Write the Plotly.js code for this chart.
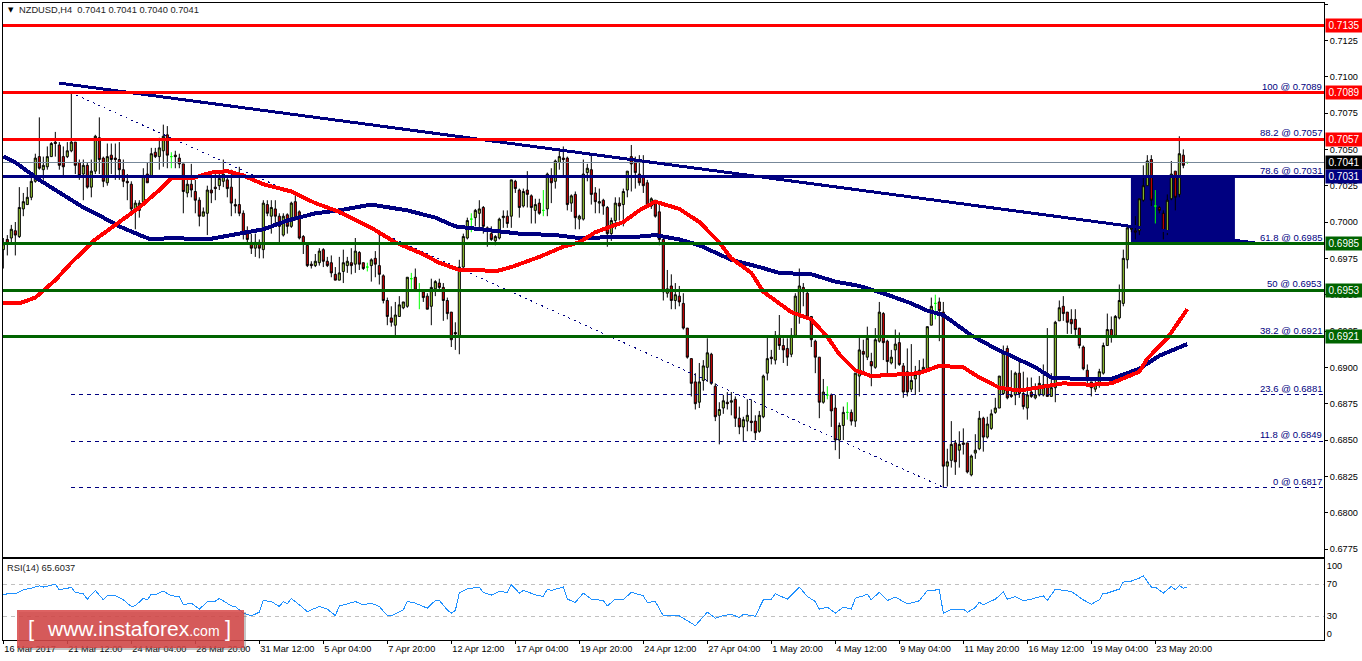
<!DOCTYPE html>
<html>
<head>
<meta charset="utf-8">
<script src="https://cdn.plot.ly/plotly-3.0.1.min.js"></script>
<style>html,body{margin:0;padding:0;background:#fff}#chart{width:1362px;height:661px}.js-line{shape-rendering:crispEdges}</style>
</head>
<body>
<div id="chart"></div>
<script>
// Prices in pips (price x 10000), one entry per H4 bar
const opens = [6981,6988,6989,6994,6990,7009,7012,7017,7028,7045,
7036,7038,7045,7055,7053,7045,7045,7049,7055,7041,
7033,7039,7024,7035,7058,7044,7027,7046,7044,7043,
7036,7028,7026,7009,7008,7014,7033,7032,7048,7045,
7049,7060,7045,7046,7044,7040,7020,7026,7021,7015,
7004,7006,7022,7024,7025,7028,7029,7024,7012,7012,
7006,6992,6986,6982,6986,6981,7012,7004,7009,7004,
6991,7005,6997,7014,7007,6990,6984,6971,6970,6972,
6981,6973,6972,6964,6960,6966,6970,6972,6971,6979,
6972,6969,6970,6975,6970,6963,6946,6934,6929,6935,
6941,6942,6961,6962,6953,6952,6949,6942,6954,6958,
6955,6946,6938,6924,6921,6969,6989,7002,7003,7006,
7010,6996,6992,6987,6989,7003,7004,7004,7028,7022,
7011,7022,7018,7008,7013,7008,7009,7032,7028,7041,
7044,7044,7013,7019,7002,7002,7034,7036,7020,7013,
7015,7010,6992,7001,7013,7012,7022,7045,7042,7033,
7032,7027,7011,7015,7007,6988,6951,6956,6946,6949,
6944,6927,6906,6890,6876,6891,6900,6909,6887,6867,
6872,6876,6876,6878,6865,6859,6863,6863,6863,6856,
6866,6896,6907,6905,6922,6915,6913,6909,6922,6935,
6955,6951,6935,6918,6907,6876,6881,6881,6872,6850,
6860,6869,6869,6863,6894,6911,6907,6904,6900,6918,
6937,6918,6903,6912,6917,6901,6897,6885,6892,6895,
6897,6899,6929,6944,6945,6938,6832,6836,6848,6843,
6848,6848,6826,6841,6844,6865,6852,6858,6869,6872,
6882,6913,6881,6881,6896,6882,6872,6883,6879,6881,
6881,6887,6880,6886,6932,6942,6938,6933,6933,6927,
6914,6898,6890,6885,6888,6896,6915,6926,6922,6934,
6944,6974,6995,6994,6994,7015,7025,7043,7011,7010,
7006,6994,7016,7035,7019,7046,7041];
const highs = [6989,6991,6998,7000,7024,7020,7024,7033,7047,7072,
7045,7052,7055,7062,7055,7052,7055,7089,7055,7043,
7043,7041,7043,7060,7072,7045,7054,7054,7054,7055,
7043,7033,7028,7015,7015,7037,7041,7051,7051,7058,
7067,7066,7048,7049,7047,7040,7029,7040,7029,7017,
7010,7025,7033,7033,7035,7043,7032,7036,7016,7038,
7008,6997,6992,6992,6988,7015,7015,7015,7015,7006,
7006,7006,7014,7020,7008,6991,6985,6973,6978,6982,
6982,6976,6977,6969,6976,6981,6976,6982,6989,6980,
6972,6972,6975,6980,6992,6964,6948,6942,6945,6949,
6945,6962,6965,6968,6958,6953,6951,6961,6960,6961,
6958,6948,6938,6931,6974,6992,7003,7006,7009,7015,
7011,6997,6997,6991,7003,7008,7008,7029,7029,7023,
7023,7035,7019,7016,7016,7022,7034,7037,7043,7050,
7052,7045,7019,7021,7005,7043,7040,7047,7024,7023,
7016,7011,7003,7017,7017,7023,7035,7053,7045,7046,
7046,7029,7017,7015,7012,6989,6967,6964,6958,6956,
6951,6927,6906,6896,6903,6905,6920,6910,6889,6876,
6881,6883,6883,6880,6873,6866,6878,6878,6867,6870,
6895,6922,6912,6925,6936,6920,6920,6927,6951,6968,
6958,6952,6935,6919,6907,6892,6887,6882,6881,6862,
6873,6876,6871,6896,6922,6919,6928,6910,6927,6945,
6938,6919,6912,6926,6924,6903,6913,6916,6901,6905,
6906,6928,6948,6950,6948,6945,6844,6863,6850,6856,
6858,6848,6840,6854,6870,6866,6866,6871,6879,6894,
6915,6915,6898,6897,6905,6897,6893,6893,6889,6894,
6902,6927,6896,6932,6946,6949,6938,6940,6940,6927,
6915,6902,6890,6891,6899,6917,6937,6935,6936,6957,
6981,6997,6997,7004,7016,7039,7046,7046,7022,7011,
7008,7019,7042,7035,7059,7050,7041];
const lows = [6968,6977,6985,6977,6989,7004,7012,7015,7027,7036,
7029,7036,7045,7045,7036,7032,7044,7048,7033,7029,
7015,7023,7017,7033,7033,7024,7025,7033,7029,7029,
7024,7015,7006,6995,7003,7012,7027,7031,7044,7036,
7038,7037,7037,7037,7037,7006,7017,7017,7006,6997,
7004,6991,7013,7015,7022,7024,7017,7004,7006,7004,
6988,6986,6978,6976,6975,6975,7004,6992,6997,6985,
6990,6992,6996,7001,6988,6978,6969,6968,6969,6970,
6969,6969,6962,6960,6960,6958,6965,6964,6965,6967,
6967,6966,6959,6962,6957,6944,6929,6928,6921,6935,
6940,6941,6954,6953,6940,6945,6940,6929,6949,6952,
6932,6933,6914,6912,6909,6967,6988,6993,6997,6996,
6992,6983,6987,6984,6988,6996,6996,6996,7020,7003,
7010,7010,6999,6999,7005,7004,7004,7013,7023,7036,
7032,7008,7007,6995,6995,7001,7028,7012,7006,7006,
7005,6983,6987,6995,7001,6997,7017,7021,7023,7025,
7020,7010,7009,7003,6984,6946,6948,6940,6940,6942,
6926,6906,6880,6871,6872,6884,6890,6888,6863,6847,
6868,6871,6867,6859,6854,6849,6856,6856,6850,6855,
6865,6891,6902,6902,6912,6903,6901,6907,6921,6930,
6942,6933,6914,6896,6865,6875,6878,6859,6843,6837,
6850,6864,6860,6859,6880,6896,6905,6887,6899,6917,
6905,6895,6902,6899,6901,6879,6880,6883,6881,6883,
6896,6898,6929,6933,6918,6817,6818,6831,6826,6831,
6840,6827,6825,6837,6843,6842,6851,6857,6868,6872,
6881,6878,6879,6874,6879,6871,6864,6879,6878,6880,
6880,6880,6880,6876,6932,6932,6923,6923,6921,6913,
6898,6889,6880,6883,6886,6895,6915,6917,6921,6933,
6942,6968,6993,6988,6991,7014,7025,7011,6999,7006,
6988,6991,7015,7008,7017,7037,7040];
const closes = [6985,6985,6995,6991,7010,7014,7017,7028,7044,7037,
7039,7045,7054,7054,7039,7038,7049,7055,7039,7032,
7039,7024,7035,7059,7043,7028,7045,7043,7043,7036,
7028,7027,7009,7013,7013,7032,7027,7047,7045,7051,
7059,7046,7045,7045,7040,7021,7026,7022,7015,7004,
7007,7022,7020,7023,7030,7033,7023,7013,7011,7006,
6992,6988,6982,6986,6982,7013,7006,7010,7004,6997,
7004,6997,7013,7002,6989,6985,6970,6970,6973,6980,
6973,6970,6965,6960,6965,6972,6973,6970,6980,6971,
6968,6969,6974,6971,6964,6946,6935,6931,6936,6943,
6945,6962,6961,6953,6953,6948,6940,6955,6959,6955,
6946,6937,6919,6923,6969,6990,7001,7002,7008,7009,
6997,6995,6988,6990,7002,7004,6999,7029,7023,7010,
7021,7019,7010,7012,7006,7008,7033,7027,7042,7045,
7043,7012,7018,7003,7004,7033,7037,7019,7014,7014,
7011,6992,7001,7013,7011,7021,7035,7040,7034,7027,
7025,7011,7016,7004,6988,6952,6954,6946,6950,6945,
6927,6907,6889,6875,6890,6901,6910,6889,6866,6871,
6877,6875,6877,6865,6859,6864,6867,6862,6855,6867,
6894,6906,6906,6922,6915,6912,6907,6922,6949,6956,
6952,6934,6919,6907,6876,6883,6881,6870,6850,6860,
6869,6869,6863,6896,6912,6909,6920,6901,6919,6938,
6917,6904,6907,6916,6902,6883,6883,6891,6895,6898,
6900,6928,6942,6944,6939,6832,6835,6847,6835,6847,
6847,6828,6839,6843,6865,6852,6861,6868,6872,6894,
6911,6879,6880,6896,6882,6873,6881,6880,6881,6889,
6888,6880,6886,6931,6941,6937,6931,6930,6926,6915,
6899,6892,6886,6888,6897,6915,6926,6921,6935,6946,
6975,6996,6996,6993,7016,7025,7042,7015,7011,7008,
6994,7015,7033,7017,7047,7039,7041];
const dojiBars = [42,91,102,104,117,135,206,211,233,288,296];

const blueMaBars = [0,3,9,13,20,25,29,35,37,42,51,57,65,71,78,84,92,101,108,113,122,129,138,144,159,163,169,174,178,182,189,194,202,208,214,221,227,231,235,242,248,254,258,262,269,277,284,289,296];
const blueMaVals = [7045,7041,7029,7022,7010,7003,6997,6990,6988,6989,6988,6991,6995,7001,7006,7008,7012,7008,7003,6997,6994,6992,6991,6989,6990,6991,6988,6984,6979,6974,6969,6965,6964,6959,6956,6950,6944,6939,6936,6922,6913,6905,6900,6893,6892,6892,6899,6908,6916];
const redMaBars = [0,4,8,12,13,17,23,28,34,39,42,47,52,56,60,65,72,78,84,92,98,104,109,114,119,123,127,134,140,144,148,155,159,163,169,174,179,182,187,190,194,197,202,206,209,213,217,223,229,234,240,244,249,254,259,265,272,277,284,286,291,296];
const redMaVals = [6944,6944,6948,6957,6960,6972,6988,6998,7010,7022,7030,7030,7034,7035,7032,7026,7021,7013,7007,6996,6986,6979,6972,6967,6967,6966,6969,6976,6983,6986,6993,7000,7008,7014,7009,7000,6986,6975,6965,6952,6944,6938,6933,6921,6909,6898,6894,6895,6896,6901,6900,6893,6886,6884,6886,6889,6888,6889,6897,6906,6920,6940];

const rsiBars = [0,1,3,5,7,9,10,13,14,17,18,20,21,23,25,26,28,30,32,33,35,36,37,38,40,42,44,45,47,49,51,53,54,57,58,60,62,64,65,67,69,70,71,72,74,76,79,81,83,84,86,88,90,92,94,96,97,100,101,103,106,108,109,111,112,113,114,116,119,120,122,124,126,127,129,130,133,135,136,137,140,141,143,145,147,150,151,153,155,157,160,161,163,165,169,171,173,176,178,180,182,184,185,188,190,192,193,196,198,199,201,203,204,206,208,210,212,213,215,216,217,219,221,223,226,229,231,234,235,237,240,241,243,244,245,247,248,250,251,253,255,257,260,261,263,265,267,270,272,274,275,276,279,280,282,284,285,287,288,290,292,293,294,295,296];
const rsiVals = [56.7,57.9,57.9,62.9,65,67.9,66.3,70,62.9,65.8,59.6,57.9,51.3,62.1,50.4,55.8,55.8,50.4,42.1,42.9,52.5,50.4,57.5,56.7,61.3,55.4,54.6,44.2,46.3,38.8,47.9,48.8,52.1,42.9,42.1,33.8,30.4,35,49.6,48.3,42.1,48.3,45.4,52.1,44.2,35.8,42.1,38.8,30.8,42.9,45.4,48.3,44.2,46.3,42.1,30.8,30.4,37.9,48.3,46.3,40,49.6,49.6,37.9,33.8,37.1,58.8,64.2,66.3,59.6,56.3,60.8,59.6,69.2,58.8,62.1,56.7,54.6,63.8,62.1,66.3,51.3,47.1,58.8,51.3,49.6,42.9,51.3,50.4,60,55.4,47.1,48.3,30.4,30.4,24.6,18.3,35,27.5,30.8,32.5,28.3,32.5,30,50.4,51.3,57.9,51.3,62.1,66.3,54.6,48.3,38.8,41.3,33.8,41.3,38.8,52.5,55.4,57.5,50.4,60,49.6,53.8,45.4,49.2,62.1,62.9,33.8,38.8,38.8,35,40.8,47.5,44.2,49.6,51.3,60,51.3,54.6,49.2,51.3,55.4,49.6,63.8,62.1,60.8,50.4,45,50.4,58.8,58.8,63.8,72.5,73.8,77.5,80.4,66.3,66.3,58.8,67.1,62.9,67.9,65,65.6];

const redLevels = [7135,7089,7057];
const navyLevels = [7031];
const greenLevels = [6985,6953,6921];
const lastPrice = 7041;
const dashedLevels = [6881,6849,6817];
const fibLabels = ['100 @ 0.7089','88.2 @ 0.7057','78.6 @ 0.7031','61.8 @ 0.6985','50 @ 0.6953','38.2 @ 0.6921','23.6 @ 0.6881','11.8 @ 0.6849','0 @ 0.6817'];
const fibLevels = [7089,7057,7031,6985,6953,6921,6881,6849,6817];
const trendBars = [13.9,312.9];
const trendVals = [7095.6,6985.6];
const fibDiagBars = [16.9,235.4];
const fibDiagVals = [7089,6817];
const zoneBars = [281.9,307.9];
const zoneVals = [7031,6985];

const tickBars = [0,16,32,48,64,80,96,112,128,144,160,176,192,208,224,240,256,272,288];
const tickLabels = ['16 Mar 2017','21 Mar 12:00','24 Mar 04:00','28 Mar 20:00','31 Mar 12:00','5 Apr 04:00','7 Apr 20:00','12 Apr 12:00','17 Apr 04:00','19 Apr 20:00','24 Apr 12:00','27 Apr 04:00','1 May 20:00','4 May 12:00','9 May 04:00','11 May 20:00','16 May 12:00','19 May 04:00','23 May 20:00'];

const P = v => v / 10000;
const BAR_MAX = 330.17, BAR_MIN = -0.08;
const NAVY = '#000080', GREEN = '#006400', RED = '#FF0000';
const FONT = 'Liberation Sans, Arial, sans-serif';

// page-pixel helpers for chrome items (watermark, caption)
const L = 3, R = 38, T = 3, B = 21, W = 1362, H = 661;
const px = x => (x - L) / (W - L - R);
const py = y => (H - B - y) / (H - B - T);

const isDoji = i => dojiBars.indexOf(i) >= 0;
const allBars = opens.map((_, i) => i);
const mainBars = allBars.filter(i => !isDoji(i));

function candle(bars, inc, dec) {
  return {type:'candlestick', xaxis:'x', yaxis:'y', x:bars,
    open:bars.map(i=>P(opens[i])), high:bars.map(i=>P(highs[i])), low:bars.map(i=>P(lows[i])), close:bars.map(i=>P(closes[i])),
    increasing:inc, decreasing:dec, whiskerwidth:0, hoverinfo:'skip', showlegend:false};
}
function line(x, y, color, width, dash, xa, ya) {
  return {type:'scatter', mode:'lines', xaxis:xa||'x', yaxis:ya||'y', x:x, y:y,
    line:{color:color, width:width, dash:dash||'solid', shape:'linear'}, hoverinfo:'skip', showlegend:false};
}
const hline = (lv, color) => line([BAR_MIN, BAR_MAX],[P(lv),P(lv)], color, 3);

const data = [
  line([BAR_MIN,BAR_MAX],[P(lastPrice),P(lastPrice)],'#778899',1),
  candle(mainBars,
    {line:{color:'#000',width:1}, fillcolor:'#9ACD32'},
    {line:{color:'#000',width:1}, fillcolor:'#D80000'}),
  candle(dojiBars,
    {line:{color:'#00FF00',width:1}, fillcolor:'#00FF00'},
    {line:{color:'#00FF00',width:1}, fillcolor:'#00FF00'}),
  line(fibDiagBars, fibDiagVals.map(P), NAVY, 1, '2px 4px'),
  ...dashedLevels.map(lv => line([fibDiagBars[0],BAR_MAX],[P(lv),P(lv)],NAVY,1,'4px 4px')),
  line(blueMaBars, blueMaVals.map(P), NAVY, 4),
  line(redMaBars, redMaVals.map(P), RED, 4),
  line(trendBars, trendVals.map(P), NAVY, 3),
  ...redLevels.map(lv => hline(lv, RED)),
  ...navyLevels.map(lv => hline(lv, NAVY)),
  ...greenLevels.map(lv => hline(lv, GREEN)),
  line([BAR_MIN,BAR_MAX],[70,70],'#C0C0C0',1,'4px 4px','x2','y2'),
  line([BAR_MIN,BAR_MAX],[30,30],'#C0C0C0',1,'4px 4px','x2','y2'),
  line(rsiBars, rsiVals, '#1E90FF', 1, 'solid', 'x2', 'y2')
];

const tag = (lv, bg) => ({xref:'paper', yref:'y', x:1, y:P(lv), xanchor:'left', yanchor:'middle', xshift:1,
  text:(lv/10000).toFixed(4), showarrow:false, bgcolor:bg, borderpad:1, width:34, height:11,
  font:{family:FONT,size:10,color:'#fff'}});

const annotations = [
  ...fibLabels.map((t,i)=>({xref:'x',yref:'y',x:BAR_MAX,y:P(fibLevels[i]),xanchor:'right',yanchor:'bottom',xshift:-1,yshift:0,text:t,showarrow:false,borderpad:0,font:{family:FONT,size:9.5,color:NAVY}})),
  tag(7135,RED), tag(7089,RED), tag(7057,RED), tag(lastPrice,'#000'), tag(7031,NAVY), tag(6985,GREEN), tag(6953,GREEN), tag(6921,GREEN),
  {xref:'paper',yref:'paper',x:px(17),y:py(10),xanchor:'left',yanchor:'middle',text:'NZDUSD,H4\u00A0\u00A00.7041 0.7041 0.7040 0.7041',showarrow:false,font:{family:FONT,size:9.3,color:'#222'}},
  {xref:'paper',yref:'paper',x:px(6),y:py(9.5),xanchor:'left',yanchor:'middle',text:'\u25BC',showarrow:false,font:{family:'DejaVu Sans',size:7,color:'#000'}},
  {xref:'paper',yref:'paper',x:px(5),y:py(568),xanchor:'left',yanchor:'middle',text:'RSI(14) 65.6037',showarrow:false,font:{family:FONT,size:9.3,color:'#222'}},
  {xref:'paper',yref:'paper',x:px(133),y:py(628),xanchor:'center',yanchor:'middle',text:'www.instaforex<span style="font-size:14px">.com</span>',showarrow:false,font:{family:FONT,size:21,color:'#fff'}},
  {xref:'paper',yref:'paper',x:px(31),y:py(628),xanchor:'center',yanchor:'middle',text:'[',showarrow:false,font:{family:FONT,size:22,color:'#fff'}},
  {xref:'paper',yref:'paper',x:px(228),y:py(628),xanchor:'center',yanchor:'middle',text:']',showarrow:false,font:{family:FONT,size:22,color:'#fff'}}
];

const shapes = [
  {type:'rect',xref:'x',yref:'y',x0:zoneBars[0],x1:zoneBars[1],y0:P(zoneVals[1]),y1:P(zoneVals[0]),fillcolor:NAVY,line:{width:0},layer:'below'},
  {type:'rect',xref:'paper',yref:'paper',x0:px(19),x1:px(246),y0:py(650),y1:py(612),fillcolor:'rgba(90,90,90,0.35)',line:{width:0},layer:'above'},
  {type:'rect',xref:'paper',yref:'paper',x0:px(17),x1:px(244),y0:py(648),y1:py(610),fillcolor:'rgba(215,70,70,0.85)',line:{width:0},layer:'above'}
];

const axisFont = {family:FONT,size:9.2,color:'#000'};
const layout = {
  width:W, height:H, autosize:false,
  margin:{l:L,r:R,t:T,b:B,pad:0},
  paper_bgcolor:'#fff', plot_bgcolor:'#fff', showlegend:false, dragmode:false,
  boxgap:0.25, boxmode:'overlay',
  xaxis:{domain:[0,1],anchor:'y',range:[BAR_MIN,BAR_MAX],showgrid:false,zeroline:false,showticklabels:false,ticks:'',showline:true,linecolor:'#000',linewidth:1,mirror:true,rangeslider:{visible:false}},
  yaxis:{domain:[py(557),1],anchor:'x',side:'right',range:[0.67695,0.71507],tick0:0.7150,dtick:0.0025,tickformat:'.4f',ticks:'outside',ticklen:3,tickcolor:'#000',showgrid:false,zeroline:false,showline:true,linecolor:'#000',linewidth:1,mirror:true,tickfont:axisFont},
  xaxis2:{domain:[0,1],anchor:'y2',range:[BAR_MIN,BAR_MAX],tickmode:'array',tickvals:tickBars,ticktext:tickLabels,tickangle:0,ticks:'outside',ticklen:3,tickcolor:'#000',ticklabelposition:'outside right',showgrid:false,zeroline:false,showline:true,linecolor:'#000',linewidth:1,mirror:true,tickfont:axisFont,rangeslider:{visible:false}},
  yaxis2:{domain:[0,py(559)],anchor:'x2',side:'right',range:[0.4,101.25],tickmode:'array',tickvals:[92.9,70,30,8.75],ticktext:['100','70','30','0'],ticks:'',showgrid:false,zeroline:false,showline:true,linecolor:'#000',linewidth:1,mirror:true,tickfont:axisFont},
  shapes:shapes, annotations:annotations
};
Plotly.newPlot('chart', data, layout, {displayModeBar:false, staticPlot:true});
</script>
</body>
</html>
